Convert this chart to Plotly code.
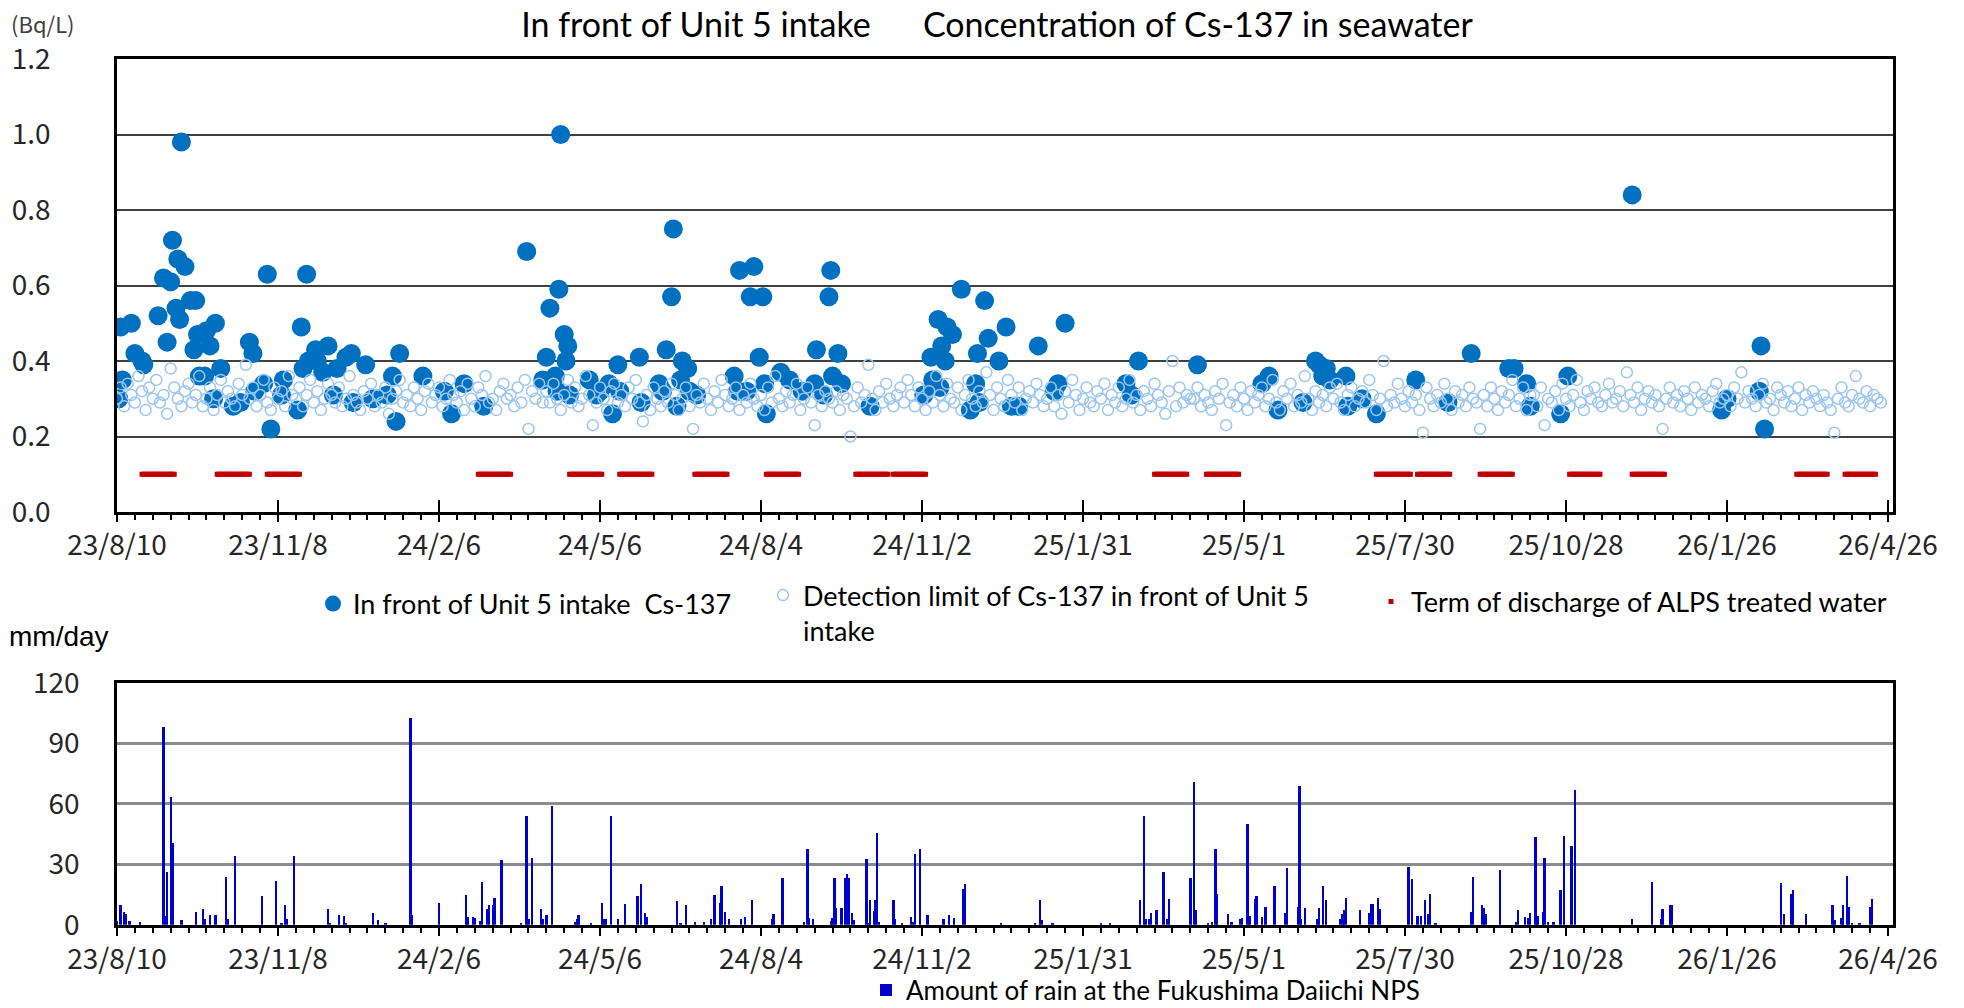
import pandas as pd
import plotly.graph_objects as go

START = pd.Timestamp("2023-08-10")
X_END = pd.Timestamp("2026-04-28 19:00")

tick_dates = ["2023-08-10", "2023-11-08", "2024-02-06", "2024-05-06", "2024-08-04", "2024-11-02",
              "2025-01-31", "2025-05-01", "2025-07-30", "2025-10-28", "2026-01-26", "2026-04-26"]
tick_labels = ["23/8/10", "23/11/8", "24/2/6", "24/5/6", "24/8/4", "24/11/2",
               "25/1/31", "25/5/1", "25/7/30", "25/10/28", "26/1/26", "26/4/26"]

# Cs-137 detected values: days after 2023/8/10, Bq/L
cs_day = [1, 2, 3, 8, 10, 14, 15, 23, 26, 28, 30, 31, 33, 34, 35, 36, 38, 41, 43, 44,
          45, 46, 49, 50, 52, 54, 55, 58, 65, 69, 74, 76, 77, 82, 84, 86, 92, 93, 101, 103,
          104, 106, 107, 111, 112, 115, 118, 121, 123, 128, 131, 132, 139, 143, 151, 154, 156, 158, 171, 183,
          187, 194, 205, 229, 238, 240, 242, 245, 246, 247, 248, 250, 251, 252, 253, 264, 268, 270, 275, 277,
          280, 281, 292, 293, 303, 305, 307, 310, 311, 313, 315, 316, 319, 320, 324, 345, 347, 348, 352, 354,
          356, 359, 361, 362, 363, 371, 376, 383, 390, 391, 395, 398, 399, 400, 403, 405, 421, 451, 455, 456,
          459, 460, 461, 463, 464, 467, 472, 477, 480, 481, 482, 485, 487, 493, 497, 500, 504, 515, 524, 526,
          530, 564, 567, 571, 604, 640, 644, 649, 663, 670, 672, 674, 676, 678, 687, 688, 696, 704, 726, 744,
          757, 778, 781, 788, 790, 807, 811, 847, 897, 900, 918, 919, 921]
cs_value = [0.30, 0.49, 0.35, 0.50, 0.42, 0.40, 0.39, 0.52, 0.62, 0.45, 0.61, 0.72, 0.54, 0.67, 0.51, 0.98, 0.65, 0.56, 0.43, 0.56,
            0.47, 0.36, 0.36, 0.48, 0.44, 0.30, 0.50, 0.38, 0.28, 0.29, 0.45, 0.42, 0.32, 0.34, 0.63, 0.22, 0.31, 0.35, 0.27, 0.49,
            0.38, 0.63, 0.40, 0.43, 0.40, 0.37, 0.44, 0.31, 0.38, 0.41, 0.42, 0.29, 0.39, 0.30, 0.31, 0.36, 0.24, 0.42, 0.36, 0.32,
            0.26, 0.34, 0.28, 0.69, 0.35, 0.41, 0.54, 0.36, 0.32, 0.59, 1.00, 0.47, 0.40, 0.44, 0.31, 0.35, 0.31, 0.32, 0.34, 0.26,
            0.39, 0.32, 0.41, 0.29, 0.34, 0.32, 0.43, 0.57, 0.75, 0.28, 0.35, 0.40, 0.38, 0.32, 0.31, 0.36, 0.32, 0.64, 0.32, 0.57,
            0.65, 0.41, 0.57, 0.34, 0.26, 0.37, 0.35, 0.32, 0.34, 0.43, 0.31, 0.57, 0.64, 0.36, 0.42, 0.34, 0.28, 0.31, 0.41, 0.35,
            0.51, 0.33, 0.44, 0.40, 0.49, 0.47, 0.59, 0.27, 0.34, 0.42, 0.29, 0.56, 0.46, 0.40, 0.49, 0.28, 0.28, 0.44, 0.32, 0.34,
            0.50, 0.34, 0.31, 0.40, 0.39, 0.34, 0.36, 0.27, 0.29, 0.40, 0.39, 0.36, 0.38, 0.35, 0.36, 0.28, 0.30, 0.26, 0.35, 0.29,
            0.42, 0.38, 0.38, 0.34, 0.28, 0.26, 0.36, 0.84, 0.27, 0.30, 0.32, 0.44, 0.22]

# detection limit, one value every 2 days from 2023/8/10 (x0.01 Bq/L)
det_step_days = 2
det_limit = [
    30, 33, 28, 34, 31, 29, 36, 32, 27, 33, 30, 35, 29, 31, 26, 38, 33, 30, 28, 32,
    34, 29, 31, 36, 28, 30, 33, 27, 31, 35, 29, 32, 30, 28, 34, 31, 39, 30, 33, 28,
    31, 35, 29, 27, 33, 30, 32, 28, 36, 31,
    30, 33, 28, 31, 35, 29, 32, 27, 30, 34, 31, 29, 33, 28, 30, 36, 31, 29, 27, 32,
    30, 34, 28, 31, 29, 33, 26, 30, 32, 35, 29, 31, 28, 33, 30, 27, 32, 34, 29, 31,
    33, 28, 30, 35, 31, 29, 32, 27, 34, 30, 28, 33, 31, 36, 29, 30, 27, 32, 34, 30,
    31, 28, 33, 29, 35, 22, 32, 30, 34, 29,
    32, 29, 34, 30, 27, 31, 35, 29, 33, 28, 30, 36, 31, 23, 29, 33, 30, 27, 32, 34,
    29, 31, 28, 33, 30, 35, 29, 24, 31, 27, 33, 30, 28, 32, 29, 34, 31, 27, 30, 33,
    28, 22, 31, 29, 34, 30, 27, 32, 29, 35, 31, 28, 30, 33, 27, 31, 29, 34, 30, 28,
    31, 27, 33, 29, 36, 30, 28, 32, 29, 31, 34, 27, 30, 33, 29, 23, 31, 28, 32, 30,
    29, 32, 27, 31, 30, 20, 28, 33, 29, 31, 39, 30, 27, 32, 29, 34, 30, 28, 31, 33,
    29, 35, 31, 28, 33, 30, 27, 32, 29, 36, 31, 28, 34, 30, 29, 33, 27, 31, 35, 30,
    28, 32, 29, 37, 31, 27, 33, 30, 28, 35, 31, 29, 33, 27, 30, 32, 29, 34, 31, 28,
    30, 33, 28, 31, 26, 32, 29, 35, 31, 27, 30, 33, 29, 28, 32, 30, 34, 27, 31, 29,
    33, 28, 30, 35, 29, 31, 27, 32, 30, 28, 34, 31, 29, 26, 32, 40, 28, 33, 29, 31,
    30, 30, 33, 28, 31, 29, 27, 32, 30, 34, 23, 29, 31, 28, 33, 30, 27, 32, 29, 31,
    33, 28, 30, 35, 29, 27, 32, 30, 34, 28, 31, 29, 36, 30, 27, 32, 29, 31, 28, 33,
    30, 34, 29, 27, 31, 33, 28, 30, 32, 29, 35, 31, 27, 30, 40, 28, 31, 29, 34, 30,
    28, 32, 29, 31, 27, 21, 33, 30, 28, 31, 29, 34, 30, 27, 32, 29, 31, 28, 33, 30,
    29, 22, 31, 28, 33, 30, 27, 32, 29, 31, 35, 28, 30, 33, 27, 31,
    31, 28, 33, 23, 30, 29, 32, 27, 34, 30, 28, 31, 35, 29, 27, 32, 30, 33, 29, 28,
    31, 34, 29, 30, 32, 28, 37, 31, 29, 33, 27, 30, 32, 29, 31, 28, 22, 30, 33, 29,
    31, 28, 32, 30, 27, 33, 29, 31, 30, 28, 32, 34, 29, 30, 31, 28, 33, 30, 37, 29,
    32, 30, 28, 31, 34, 29, 30, 27, 33, 31, 29, 32, 28, 30, 33, 27, 31, 29, 32, 30,
    28, 31, 29, 27, 21, 30, 33, 29, 28, 31, 36, 30, 29, 32, 28, 31, 30, 29,
]

# ALPS treated water discharge terms
discharge_start = ["2023-08-24", "2023-10-05", "2023-11-02", "2024-02-28", "2024-04-19", "2024-05-17",
                   "2024-06-28", "2024-08-07", "2024-09-26", "2024-10-17", "2025-03-12", "2025-04-10",
                   "2025-07-14", "2025-08-06", "2025-09-10", "2025-10-30", "2025-12-04", "2026-03-06",
                   "2026-04-02"]
discharge_end = ["2023-09-11", "2023-10-23", "2023-11-20", "2024-03-17", "2024-05-07", "2024-06-04",
                 "2024-07-16", "2024-08-25", "2024-10-14", "2024-11-04", "2025-03-30", "2025-04-28",
                 "2025-08-02", "2025-08-24", "2025-09-28", "2025-11-16", "2025-12-22", "2026-03-23",
                 "2026-04-19"]
discharge_level = 0.1

# daily rain (mm/day), days after 2023/8/10, only rainy days
rain_day = [0, 2, 4, 5, 7, 13, 26, 27, 28, 30, 31, 36, 44, 48, 49, 52, 55, 61, 62, 66,
            81, 89, 92, 94, 95, 99, 118, 119, 124, 127, 128, 143, 146, 150, 164, 165, 180, 195, 196, 199,
            200, 203, 204, 207, 208, 210, 211, 215, 226, 229, 230, 232, 237, 238, 240, 243, 256, 257, 258, 265,
            271, 272, 273, 276, 280, 284, 291, 293, 295, 296, 313, 315, 318, 323, 328, 332, 334, 337, 338, 340,
            342, 349, 351, 355, 366, 367, 372, 384, 386, 387, 389, 399, 400, 401, 402, 405, 407, 408, 409, 411,
            412, 419, 420, 421, 423, 424, 425, 426, 434, 435, 439, 444, 445, 446, 449, 453, 462, 465, 468, 473,
            474, 494, 513, 516, 517, 523, 550, 555, 572, 574, 575, 577, 578, 581, 585, 587, 588, 600, 602, 603,
            610, 612, 614, 615, 621, 623, 628, 629, 632, 633, 636, 637, 640, 642, 647, 653, 654, 660, 661, 662,
            664, 671, 672, 674, 676, 684, 685, 686, 687, 695, 700, 701, 702, 705, 706, 722, 724, 727, 729, 731,
            733, 734, 737, 757, 758, 763, 764, 765, 773, 782, 783, 787, 789, 790, 793, 794, 797, 798, 800, 803,
            807, 809, 813, 815, 847, 858, 863, 864, 868, 869, 930, 932, 936, 937, 944, 959, 960, 964, 965, 967,
            968, 970, 974, 980, 981]
rain_mm = [2.0, 9.7, 6.5, 5.5, 2.2, 1.5, 98.0, 4.5, 26.5, 63.5, 40.5, 2.6, 6.5, 7.7, 3.0, 5.2, 5.2, 24.0, 3.2, 34.0,
           14.2, 22.0, 0.6, 9.7, 2.8, 34.0, 7.8, 0.8, 5.2, 4.7, 0.8, 6.0, 2.7, 0.8, 102.5, 5.2, 11.0, 14.9, 4.0, 4.0,
           3.3, 2.0, 21.3, 7.9, 9.7, 9.7, 13.5, 32.0, 0.8, 54.3, 2.8, 33.4, 7.9, 2.8, 4.8, 59.0, 1.7, 2.8, 4.8, 0.8,
           11.1, 2.8, 2.8, 54.3, 2.8, 10.6, 14.2, 20.1, 5.8, 4.0, 11.9, 0.8, 9.7, 1.7, 1.7, 2.8, 14.9, 11.1, 19.3, 6.6,
           2.8, 2.8, 4.0, 12.4, 2.8, 5.3, 23.1, 1.7, 37.8, 3.3, 2.8, 2.0, 3.6, 23.1, 8.6, 8.6, 23.1, 25.1, 23.1, 5.8,
           2.3, 32.5, 0.8, 12.4, 6.9, 12.4, 45.7, 1.7, 12.4, 2.8, 0.8, 4.0, 1.7, 35.0, 37.8, 4.8, 2.8, 4.8, 3.6, 17.7,
           20.1, 0.8, 0.8, 12.4, 2.3, 0.8, 0.8, 0.8, 12.4, 54.3, 2.8, 2.8, 5.8, 7.3, 26.4, 2.8, 13.0, 23.1, 70.7, 7.3,
           1.2, 1.7, 37.8, 15.5, 5.3, 1.7, 2.8, 3.3, 49.9, 4.5, 13.0, 14.2, 4.0, 9.1, 19.3, 5.8, 28.4, 9.1, 68.9, 2.8,
           8.6, 2.8, 8.6, 19.3, 12.4, 2.8, 5.3, 7.3, 13.5, 7.3, 5.8, 10.6, 10.2, 13.5, 7.9, 28.9, 22.6, 4.5, 4.5, 12.4,
           5.3, 15.5, 1.2, 6.6, 23.8, 9.7, 8.6, 5.3, 27.1, 1.7, 7.3, 4.0, 3.3, 5.8, 43.6, 4.5, 6.6, 33.4, 1.7, 1.7,
           17.3, 44.1, 39.1, 66.9, 2.8, 21.3, 2.8, 7.9, 9.7, 9.7, 20.6, 5.3, 15.5, 17.3, 5.3, 9.7, 2.3, 3.6, 9.7, 24.3,
           9.1, 0.8, 0.8, 9.1, 13.0]

W, H = 1964, 1008
X_DOM = [117 / W, 1893 / W]
TICK_FONT = dict(family="Noto Sans CJK JP", size=28, color="#262626")
TEXT_FONT = "Lato"

cs_x = START + pd.to_timedelta(cs_day, unit="D")
det_x = START + pd.to_timedelta([i * det_step_days for i in range(len(det_limit))], unit="D")
det_y = [v / 100 for v in det_limit]
dis_x = []
for s, e in zip(discharge_start, discharge_end):
    dis_x.extend(pd.date_range(s, e, freq="D"))
rain_x = START + pd.to_timedelta(rain_day, unit="D")

fig = go.Figure()
fig.add_trace(
    go.Scatter(
        x=cs_x, y=cs_value, name="In front of Unit 5 intake&nbsp;&nbsp;Cs-137", mode="markers",
        marker=dict(size=19, color="#0070C0"), legend="legend", showlegend=True,
    )
)
fig.add_trace(
    go.Scatter(
        x=det_x, y=det_y, name="Detection limit of Cs-137 in front of Unit 5<br>intake", mode="markers",
        marker=dict(symbol="circle-open", size=11, color="#9CC6F2", line=dict(width=1.5)), legend="legend2",
    )
)
fig.add_trace(
    go.Scatter(
        x=dis_x, y=[discharge_level] * len(dis_x), name="Term of discharge of ALPS treated water", mode="markers",
        marker=dict(symbol="square", size=5, color="#C00000", line=dict(width=0)), legend="legend3",
    )
)
fig.add_trace(
    go.Bar(
        x=rain_x, y=rain_mm, name="Amount of rain at the Fukushima Daiichi NPS", marker_color="#0000CC",
        marker_line_width=0, width=1.3 * 86400000, xaxis="x2", yaxis="y2", legend="legend4",
    )
)
# carrier for the crossing major ticks of the upper chart
fig.add_trace(go.Scatter(x=[], y=[], xaxis="x3", yaxis="y", showlegend=False))

minor = dict(ticks="outside", ticklen=5, tickwidth=2, tickcolor="black", dtick=10 * 86400000, tick0="2023-08-10", showgrid=False)
common_x = dict(
    type="date", domain=X_DOM, range=[START, X_END], tickmode="array", tickvals=tick_dates, ticktext=tick_labels,
    ticks="outside", tickwidth=2, tickcolor="black", showline=True, linecolor="black", linewidth=2.5, mirror=True,
    showgrid=False, tickfont=TICK_FONT, automargin=False, ticklabelstandoff=0,
)
legend_common = dict(bgcolor="rgba(0,0,0,0)", font=dict(family=TEXT_FONT, size=27, color="black"),
                     xanchor="left", yanchor="middle", orientation="h", itemclick=False)

fig.update_layout(
    width=W, height=H, margin=dict(l=0, r=0, t=0, b=0, autoexpand=False), paper_bgcolor="white",
    plot_bgcolor="white", showlegend=True,
    title=dict(text="In front of Unit 5 intake" + "&nbsp;" * 6 + "Concentration of Cs-137 in seawater",
               x=997 / W, xanchor="center", y=1 - 25 / H, yanchor="middle",
               font=dict(family=TEXT_FONT, size=34, color="black")),
    xaxis=dict(common_x, anchor="y", ticklen=7, minor=minor),
    xaxis3=dict(type="date", domain=X_DOM, range=[START, X_END], overlaying="x", anchor="y", tickmode="array",
                tickvals=tick_dates, ticks="inside", ticklen=12, tickwidth=2, tickcolor="black",
                showticklabels=False, showline=False, showgrid=False, automargin=False),
    yaxis=dict(domain=[1 - 512 / H, 1 - 59 / H], anchor="x", range=[0, 1.2], dtick=0.2, tickformat=".1f",
               showgrid=True, gridcolor="#404040", gridwidth=2, showline=True, linecolor="black", linewidth=2.5,
               mirror=True, ticks="", tickfont=TICK_FONT, ticklabelstandoff=58, zeroline=False, automargin=False),
    xaxis2=dict(common_x, anchor="y2", ticklen=8, minor=minor),
    yaxis2=dict(domain=[1 - 924.8 / H, 1 - 682.8 / H], anchor="x2", range=[0, 120], dtick=30,
                showgrid=True, gridcolor="#8C8C8C", gridwidth=2.5, showline=True, linecolor="black", linewidth=2.5,
                mirror=True, ticks="", tickfont=TICK_FONT, ticklabelstandoff=29, zeroline=False, automargin=False),
    legend=dict(legend_common, x=313 / W, y=1 - 604 / H),
    legend2=dict(legend_common, x=763 / W, y=1 - 613 / H, valign="top"),
    legend3=dict(legend_common, x=1371 / W, y=1 - 602 / H),
    legend4=dict(legend_common, x=866 / W, y=1 - 990 / H, font=dict(family=TEXT_FONT, size=26, color="black")),
    bargap=0,
    annotations=[
        dict(text="(Bq/L)", x=43 / W, y=1 - 23 / H, xref="paper", yref="paper", showarrow=False,
             xanchor="center", yanchor="middle",
             font=dict(family="Noto Sans CJK JP", size=22, color="#404040")),
        dict(text="mm/day", x=59 / W, y=1 - 636 / H, xref="paper", yref="paper", showarrow=False,
             xanchor="center", yanchor="middle",
             font=dict(family="Liberation Sans", size=28, color="black")),
    ],
)

fig.write_html("out.html", config={"displayModeBar": False}, post_script="document.body.style.margin='0';")
